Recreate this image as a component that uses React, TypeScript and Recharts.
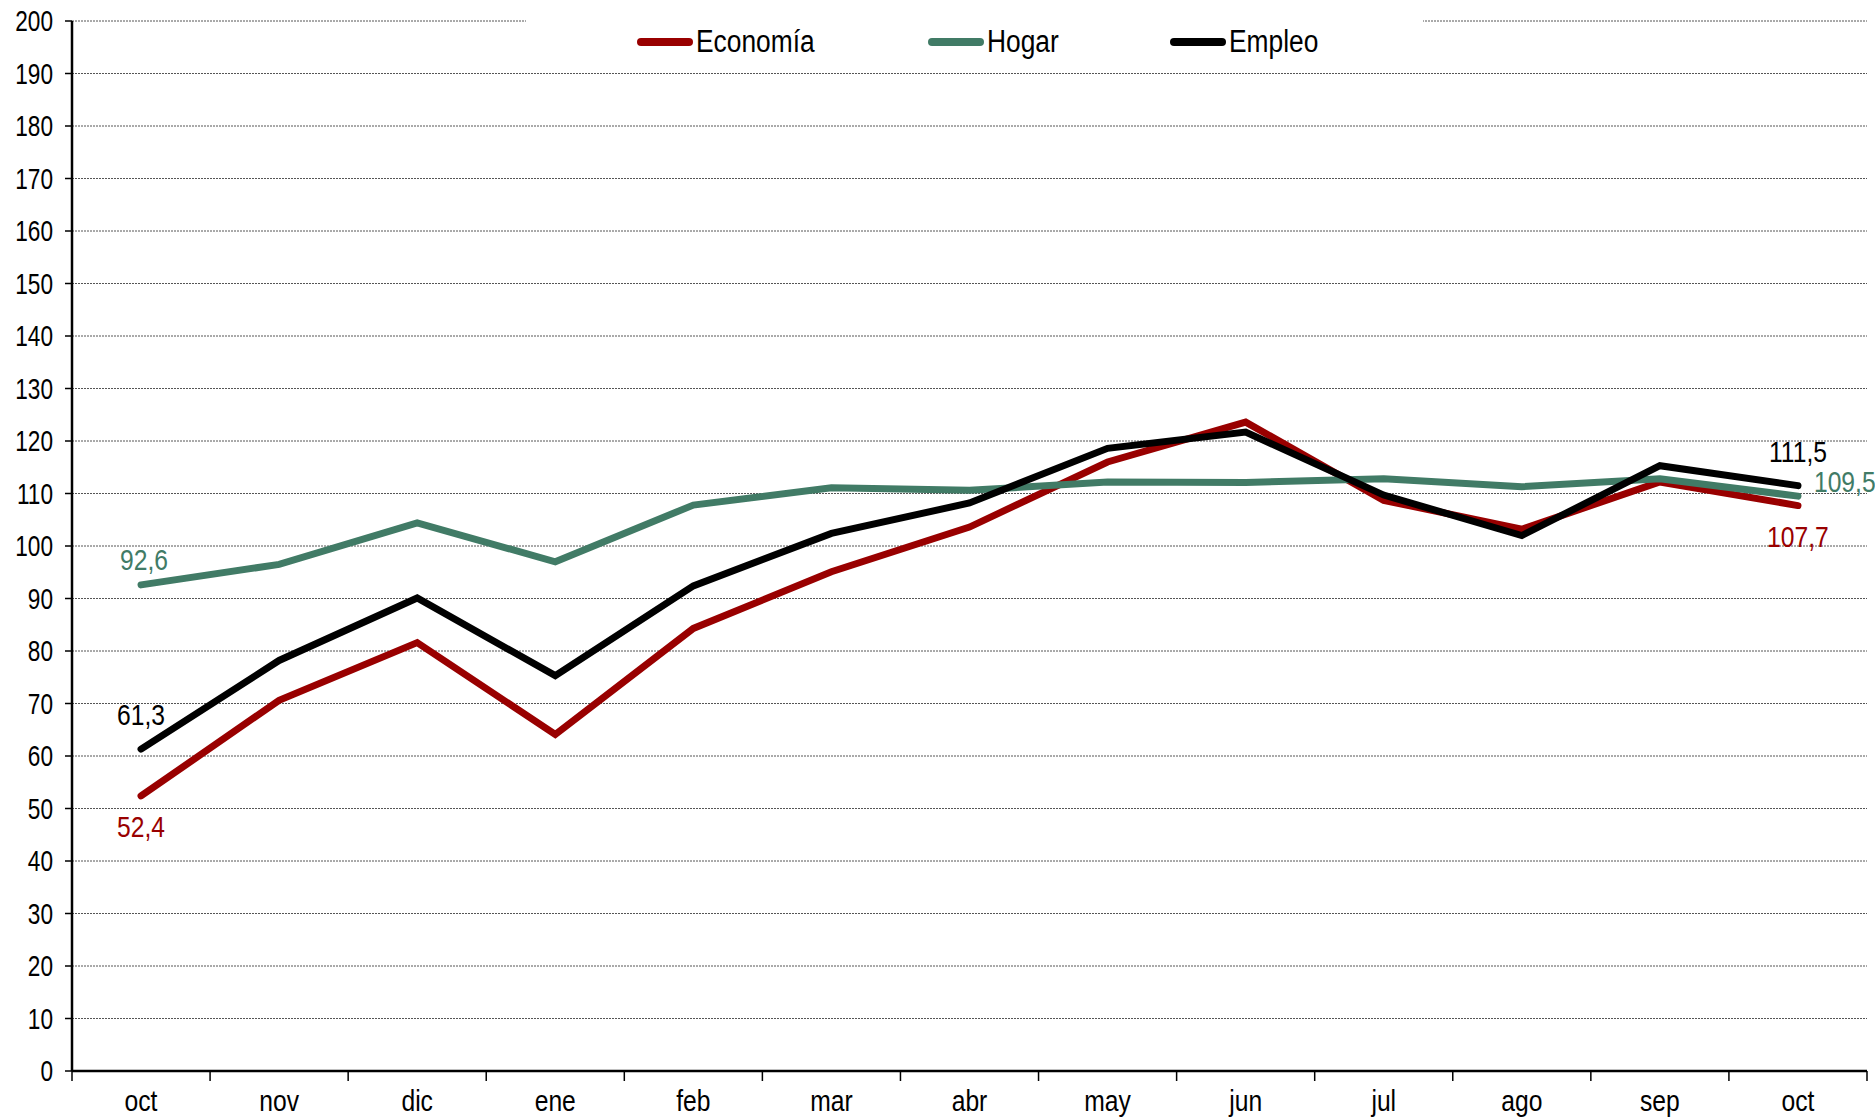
import { LineChart, Line, XAxis, YAxis, CartesianGrid, Legend, LabelList } from "recharts";

// Meses del eje X (oct a oct)
const MONTHS = ["oct", "nov", "dic", "ene", "feb", "mar", "abr", "may", "jun", "jul", "ago", "sep", "oct"];

// Series
const ECONOMIA = [52.4, 70.6, 81.6, 64.1, 84.3, 95.1, 103.6, 116.0, 123.6, 108.7, 103.2, 112.2, 107.7];
const HOGAR = [92.6, 96.5, 104.4, 97.0, 107.8, 111.1, 110.6, 112.2, 112.1, 112.8, 111.3, 112.8, 109.5];
const EMPLEO = [61.3, 78.2, 90.1, 75.3, 92.4, 102.4, 108.2, 118.6, 121.7, 109.7, 102.0, 115.3, 111.5];

const Y_TICKS = [0, 10, 20, 30, 40, 50, 60, 70, 80, 90, 100, 110, 120, 130, 140, 150, 160, 170, 180, 190, 200];

const data = MONTHS.map((m, i) => ({
  month: m,
  economia: ECONOMIA[i],
  hogar: HOGAR[i],
  empleo: EMPLEO[i],
}));

const W = 1875;
const H = 1117;
const MARGIN = { top: 21, right: 8, bottom: 0, left: 0 };
const Y_WIDTH = 72;
const X_HEIGHT = 46;
const PLOT_W = W - MARGIN.left - MARGIN.right - Y_WIDTH;
const BAND = PLOT_W / MONTHS.length;
const AXIS_Y = H - MARGIN.bottom - X_HEIGHT;

const FONT = "'Liberation Sans', Arial, sans-serif";
const NARROW = 0.85; // el original usa una fuente estrecha

const RED = "#990000";
const GREEN = "#417B66";
const BLACK = "#000000";

const fmt = (v: number) => v.toFixed(1).replace(".", ",");

// Texto SVG comprimido horizontalmente
const NarrowText = ({ x, y, anchor, fill, size, dy, sx = NARROW, children }: any) => (
  <text
    transform={`translate(${x},${y}) scale(${sx},1)`}
    textAnchor={anchor}
    fill={fill}
    fontSize={size}
    fontFamily={FONT}
    dy={dy}
  >
    {children}
  </text>
);

// Etiquetas solo en el primer y último punto
const makeLabel = (color: string, first: any, last: any) => (props: any) => {
  const { x, y, index, value } = props;
  let pos = null;
  if (index === 0) pos = first;
  if (index === MONTHS.length - 1) pos = last;
  if (!pos) return null;
  return (
    <NarrowText x={x + pos.dx} y={y + pos.dy} anchor={pos.anchor} fill={color} size={29}>
      {fmt(value)}
    </NarrowText>
  );
};

const XTick = (props: any) => {
  const { x, payload, index } = props;
  const isLast = index === MONTHS.length - 1;
  return (
    <g>
      <line x1={x - BAND / 2} x2={x - BAND / 2} y1={AXIS_Y} y2={AXIS_Y + 10} stroke="#000" strokeWidth={1.5} />
      {isLast && (
        <line x1={x + BAND / 2} x2={x + BAND / 2} y1={AXIS_Y} y2={AXIS_Y + 10} stroke="#000" strokeWidth={1.5} />
      )}
      <NarrowText x={x} y={AXIS_Y + 40} anchor="middle" fill="#000" size={29}>
        {payload.value}
      </NarrowText>
    </g>
  );
};

const YTick = (props: any) => {
  const { x, y, payload } = props;
  return (
    <NarrowText x={x} y={y} anchor="end" fill="#000" size={29} dy="0.355em" sx={0.78}>
      {payload.value}
    </NarrowText>
  );
};

const LEGEND_ITEMS = [
  { name: "Economía", color: RED, left: 111 },
  { name: "Hogar", color: GREEN, left: 402 },
  { name: "Empleo", color: BLACK, left: 644 },
];

const renderLegend = () => (
  <div style={{ position: "relative", width: 897, height: 52, background: "#fff" }}>
    {LEGEND_ITEMS.map((it) => (
      <div
        key={it.name}
        style={{
          position: "absolute",
          left: it.left,
          top: 24,
          height: 36,
          display: "flex",
          alignItems: "center",
          whiteSpace: "nowrap",
        }}
      >
        <span
          style={{
            display: "inline-block",
            width: 56,
            height: 8,
            borderRadius: 4,
            background: it.color,
            marginRight: 3,
          }}
        />
        <span
          style={{
            display: "inline-block",
            fontFamily: FONT,
            fontSize: 31,
            color: "#000",
            lineHeight: "36px",
            transform: `scaleX(${NARROW})`,
            transformOrigin: "left center",
          }}
        >
          {it.name}
        </span>
      </div>
    ))}
  </div>
);

export default function App() {
  return (
    <div style={{ position: "absolute", left: 0, top: 0, width: W, height: H, background: "#fff" }}>
      <LineChart width={W} height={H} data={data} margin={MARGIN}>
        <CartesianGrid vertical={false} stroke="#555" strokeDasharray="2 1" strokeWidth={1} />
        <XAxis
          dataKey="month"
          height={X_HEIGHT}
          padding={{ left: BAND / 2, right: BAND / 2 }}
          axisLine={{ stroke: "#000", strokeWidth: 2.5 }}
          tickLine={false}
          tick={<XTick />}
          interval={0}
        />
        <YAxis
          width={Y_WIDTH}
          domain={[0, 200]}
          ticks={Y_TICKS}
          interval={0}
          axisLine={{ stroke: "#000", strokeWidth: 2.5 }}
          tickLine={{ stroke: "#000", strokeWidth: 1.5 }}
          tickSize={7}
          tickMargin={12}
          tick={<YTick />}
        />
        <Legend
          layout="vertical"
          align="center"
          verticalAlign="middle"
          content={renderLegend}
          wrapperStyle={{ position: "absolute", left: 526, top: "0px", width: 897, height: 52 }}
        />
        <Line
          dataKey="economia"
          name="Economía"
          stroke={RED}
          strokeWidth={7}
          dot={false}
          strokeLinecap="round"
          isAnimationActive={false}
        >
          <LabelList
            dataKey="economia"
            content={makeLabel(RED, { dx: 0, dy: 41, anchor: "middle" }, { dx: 0, dy: 41, anchor: "middle" })}
          />
        </Line>
        <Line
          dataKey="hogar"
          name="Hogar"
          stroke={GREEN}
          strokeWidth={7}
          dot={false}
          strokeLinecap="round"
          isAnimationActive={false}
        >
          <LabelList
            dataKey="hogar"
            content={makeLabel(GREEN, { dx: 3, dy: -15, anchor: "middle" }, { dx: 16, dy: -4, anchor: "start" })}
          />
        </Line>
        <Line
          dataKey="empleo"
          name="Empleo"
          stroke={BLACK}
          strokeWidth={7}
          dot={false}
          strokeLinecap="round"
          isAnimationActive={false}
        >
          <LabelList
            dataKey="empleo"
            content={makeLabel(BLACK, { dx: 0, dy: -24, anchor: "middle" }, { dx: 0, dy: -24, anchor: "middle" })}
          />
        </Line>
      </LineChart>
    </div>
  );
}
